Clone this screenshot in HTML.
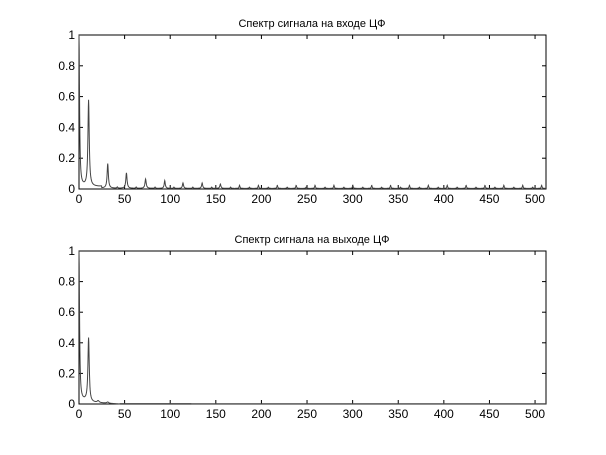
<!DOCTYPE html>
<html><head><meta charset="utf-8"><style>
body{margin:0;background:#fff}
svg{display:block;font-family:"Liberation Sans",Arial,sans-serif}
</style></head><body>
<svg id="s" width="606" height="455" xmlns="http://www.w3.org/2000/svg">
<rect width="606" height="455" fill="#fff"/>
<text x="312" y="27" font-size="11" text-anchor="middle">Спектр сигнала на входе ЦФ</text>
<text x="312" y="243" font-size="11" text-anchor="middle">Спектр сигнала на выходе ЦФ</text>
<g id="g"></g>
</svg>
<script>
var NS="http://www.w3.org/2000/svg",g=document.getElementById("g");
function el(t,a,txt){var e=document.createElementNS(NS,t);for(var k in a)e.setAttribute(k,a[k]);if(txt!=null)e.textContent=txt;g.appendChild(e);return e;}
var L=79,R=546;
function axes(top,bot){
 el("rect",{x:L,y:top,width:R-L,height:bot-top,fill:"none",stroke:"#000","stroke-width":1});
 for(var v=0;v<=500;v+=50){var x=L+v*(R-L)/512;
  el("line",{x1:x,y1:bot,x2:x,y2:bot-4,stroke:"#000"});el("line",{x1:x,y1:top,x2:x,y2:top+4,stroke:"#000"});
  el("text",{x:x,y:bot+14,"font-size":12,"text-anchor":"middle"},""+v);}
 var ys=[0,0.2,0.4,0.6,0.8,1],lb=["0","0.2","0.4","0.6","0.8","1"];
 for(var i=0;i<6;i++){var y=bot-ys[i]*(bot-top);
  el("line",{x1:L,y1:y,x2:L+4,y2:y,stroke:"#000"});el("line",{x1:R,y1:y,x2:R-4,y2:y,stroke:"#000"});
  el("text",{x:L-4,y:y+4,"font-size":12,"text-anchor":"end"},lb[i]);}
}
function plot(top,bot,peaks,base){
 var d="";for(var i=0;i<=512*4;i++){var f=i/4,v=base(f);
  for(var p of peaks)v+=p[1]/(1+Math.pow((f-p[0])/p[2],2));
  if(v>1)v=1;var x=L+f*(R-L)/512,y=bot-v*(bot-top);d+=(i?"L":"M")+x.toFixed(2)+","+y.toFixed(2);}
 el("path",{d:d,fill:"none",stroke:"#444","stroke-width":1});
}
axes(35,189);axes(251,404);
var P=[[0,1,0.7],[10.5,0.56,0.85],[31.5,0.16,0.8],[52,0.1,0.8],[73,0.06,0.8],[94,0.05,0.7],[114,0.035,0.7],[135,0.035,0.7],[155,0.028,0.7]];
for(var c=176;c<512;c+=20.7)P.push([c,0.02,0.5]);
for(var c=42;c<512;c+=20.7)P.push([c,0.008,0.5]);
plot(35,189,P,function(f){return f<25?0.015:0.004;});
plot(251,404,[[0,1,0.7],[10.5,0.41,0.85],[21,0.012,1.2],[31.5,0.008,1.2]],function(f){return f<12?0.02:(f<45?0.01*(45-f)/33:0.002);});
</script>
</body></html>
